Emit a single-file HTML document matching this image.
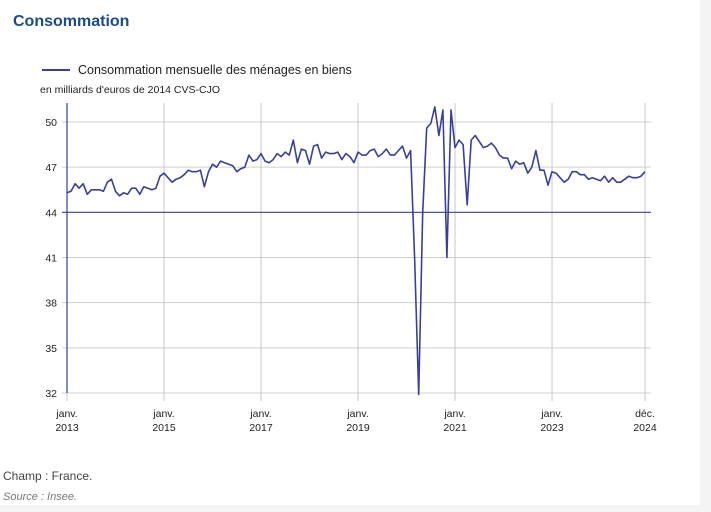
<!DOCTYPE html>
<html><head><meta charset="utf-8"><style>
html,body{margin:0;padding:0;background:#f4f4f4;}
body{width:711px;height:512px;overflow:hidden;position:relative;font-family:"Liberation Sans",sans-serif;}
#card{position:absolute;left:0;top:0;width:700px;height:505px;background:#fff;}
</style></head><body>
<div id="card"></div>
<svg id="s" width="711" height="512" style="position:absolute;left:0;top:0" font-family="Liberation Sans, sans-serif">
<text x="13" y="26" font-size="16" font-weight="bold" fill="#1b4a86">Consommation</text>
<line x1="42" y1="70" x2="70" y2="70" stroke="#3a3f9a" stroke-width="2"/>
<text x="78" y="74" font-size="12.5" fill="#222">Consommation mensuelle des ménages en biens</text>
<text x="40" y="93" font-size="10.5" fill="#222">en milliards d'euros de 2014 CVS-CJO</text>
<g id="grid"></g>
<polyline id="ln" fill="none" stroke="#3a3f9a" stroke-width="1.6" stroke-linejoin="round"/>
<text x="3" y="480" font-size="12" fill="#444">Champ : France.</text>
<text x="3" y="500" font-size="11" font-style="italic" fill="#777">Source : Insee.</text>
</svg>
<script>
var d=[45.3,45.4,45.9,45.6,45.9,45.2,45.5,45.5,45.5,45.4,46.0,46.2,
45.4,45.1,45.3,45.2,45.6,45.6,45.2,45.7,45.6,45.5,45.6,46.4,
46.6,46.3,46.0,46.2,46.3,46.5,46.8,46.7,46.7,46.8,45.7,46.7,
47.2,47.0,47.4,47.3,47.2,47.1,46.7,46.9,47.0,47.8,47.4,47.5,
47.9,47.4,47.3,47.5,47.9,47.7,48.0,47.8,48.8,47.3,48.2,48.1,
47.2,48.4,48.5,47.6,48.0,47.9,47.9,48.0,47.5,47.9,47.7,47.3,
48.0,47.8,47.8,48.1,48.2,47.7,47.9,48.2,47.8,47.8,48.1,48.4,
47.6,48.1,41.0,31.9,44.0,49.6,49.9,51.0,49.1,50.8,41.0,50.8,
48.3,48.8,48.5,44.5,48.8,49.1,48.7,48.3,48.4,48.6,48.3,47.8,
47.6,47.6,46.9,47.4,47.2,47.3,46.6,47.0,48.1,46.8,46.8,45.8,
46.7,46.6,46.3,46.0,46.2,46.7,46.7,46.5,46.5,46.2,46.3,46.2,
46.1,46.4,46.0,46.3,46.0,46.0,46.2,46.4,46.3,46.3,46.4,46.7];
var X=function(i){return 67+i*(645-67)/143},Y=function(v){return 393-(v-32)*(271/18)};
var g='',ns='http://www.w3.org/2000/svg';
[32,35,38,41,47,50].forEach(function(v){var y=Y(v);g+='<line x1="62" x2="651" y1="'+y+'" y2="'+y+'" stroke="#d0d0d0"/>';});
[[0,'janv.','2013'],[24,'janv.','2015'],[48,'janv.','2017'],[72,'janv.','2019'],[96,'janv.','2021'],[120,'janv.','2023'],[143,'déc.','2024']].forEach(function(t){var x=X(t[0]);
if(t[0]>0)g+='<line x1="'+x+'" x2="'+x+'" y1="103" y2="401" stroke="#c8c8c8"/>';else g+='<line x1="'+x+'" x2="'+x+'" y1="393" y2="401" stroke="#c8c8c8"/>';
g+='<text x="'+x+'" y="417" font-size="10.5" text-anchor="middle" fill="#222">'+t[1]+'</text><text x="'+x+'" y="431" font-size="10.5" text-anchor="middle" fill="#222">'+t[2]+'</text>';});
[32,35,38,41,44,47,50].forEach(function(v){var y=Y(v);g+='<text x="57" y="'+(y+4)+'" font-size="10.5" text-anchor="end" fill="#222">'+v+'</text>';});
g+='<line x1="67" x2="67" y1="103" y2="393" stroke="#3a3f9a" stroke-width="1.2"/>';
g+='<line x1="62" x2="651" y1="'+Y(44)+'" y2="'+Y(44)+'" stroke="#3a3f9a" stroke-width="1.2"/>';
document.getElementById('grid').innerHTML=g;
document.getElementById('ln').setAttribute('points',d.map(function(v,i){return X(i).toFixed(1)+','+Y(v).toFixed(1)}).join(' '));
</script>
</body></html>
